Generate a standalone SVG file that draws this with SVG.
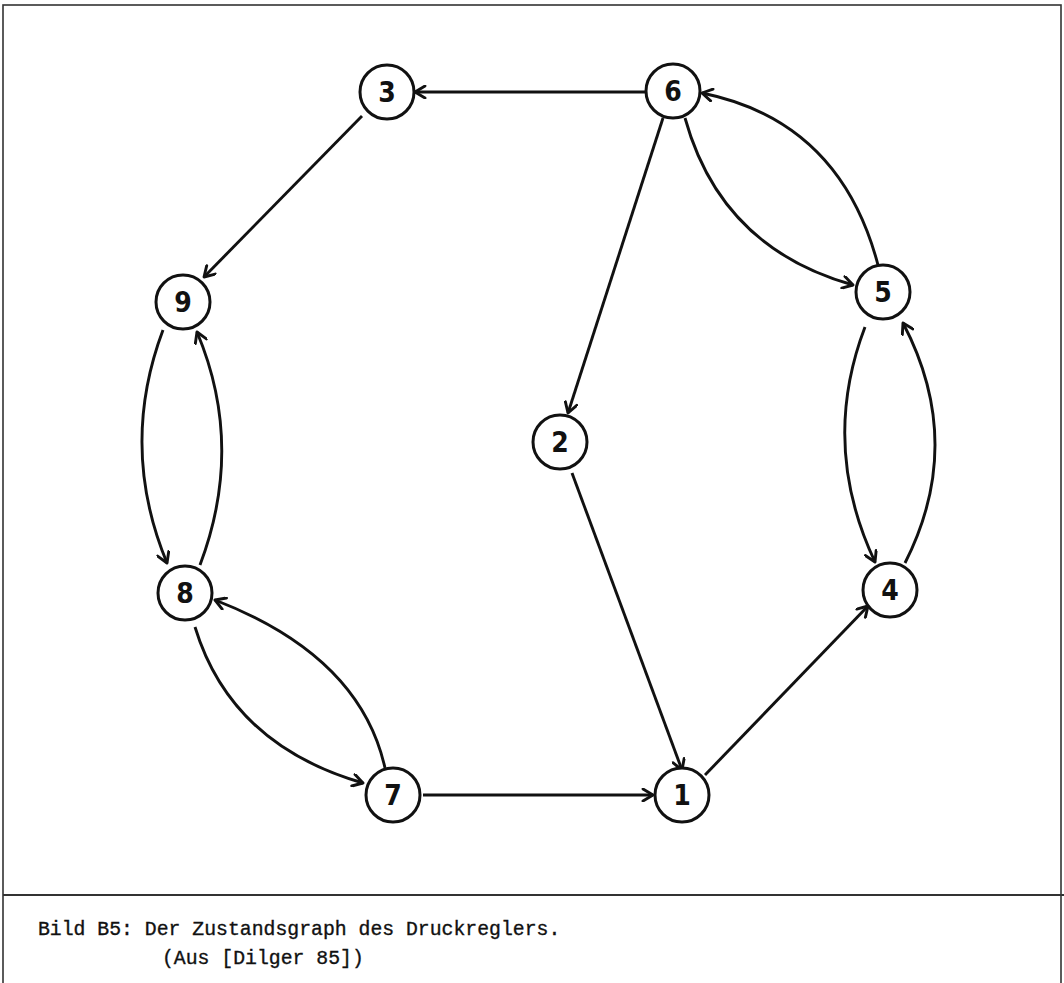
<svg xmlns="http://www.w3.org/2000/svg" width="1064" height="983" viewBox="0 0 1064 983">
<defs>
<style>
.n circle{fill:#fff;stroke:#111;stroke-width:3}
.n text{font-family:"Liberation Sans Narrow","DejaVu Sans Condensed","Liberation Sans",sans-serif;font-weight:bold;font-size:28px;fill:#111;text-anchor:middle}
.e path{fill:none;stroke:#111;stroke-width:2.9;marker-end:url(#ah)}
.cap{font-family:"Liberation Mono","DejaVu Sans Mono",monospace;font-size:19.8px;fill:#111;stroke:#111;stroke-width:0.35}
</style>
<marker id="ah" viewBox="-12 -7 14 14" refX="0" refY="0" markerWidth="14" markerHeight="14" markerUnits="userSpaceOnUse" orient="auto">
<path d="M-10,-6 L0,0 L-10,6" fill="none" stroke="#111" stroke-width="2.9" stroke-linecap="round" stroke-linejoin="round"/>
</marker>
</defs>
<rect x="0" y="0" width="1064" height="983" fill="#fff"/>
<g id="frame" fill="none" stroke="#333" stroke-width="1.6">
<rect x="3" y="5" width="1058" height="1000"/>
<line x1="3" y1="895" x2="1064" y2="895" stroke-width="2"/>
</g>
<g class="e" id="connectors">
<path d="M646,92 L415,92"/>
<path d="M362,116 L204,277"/>
<path d="M663,118 L568,413"/>
<path d="M572,473 L682,770"/>
<path d="M705,775 L868,606"/>
<path d="M423,795 L653,795"/>
<path d="M685,118 Q721,248 853,285"/>
<path d="M878,265 Q840,121 702,93"/>
<path d="M865,327 Q820,445 875,562"/>
<path d="M905,563 Q966,443 903,323"/>
<path d="M163,330 Q119,447 167,563"/>
<path d="M200,565 Q245,446 197,332"/>
<path d="M385,768 Q360,656 215,600"/>
<path d="M195,627 Q231,745 363,783"/>
</g>
<g class="n" id="node1"><circle cx="682" cy="795" r="27"/><text x="682" y="805">1</text></g>
<g class="n" id="node2"><circle cx="560" cy="442" r="27"/><text x="560" y="452">2</text></g>
<g class="n" id="node3"><circle cx="387" cy="92" r="27"/><text x="387" y="102">3</text></g>
<g class="n" id="node4"><circle cx="890" cy="590" r="27"/><text x="890" y="600">4</text></g>
<g class="n" id="node5"><circle cx="883" cy="292" r="27"/><text x="883" y="302">5</text></g>
<g class="n" id="node6"><circle cx="673" cy="91" r="27"/><text x="673" y="101">6</text></g>
<g class="n" id="node7"><circle cx="393" cy="795" r="27"/><text x="393" y="805">7</text></g>
<g class="n" id="node8"><circle cx="185" cy="593" r="27"/><text x="185" y="603">8</text></g>
<g class="n" id="node9"><circle cx="183" cy="302" r="27"/><text x="183" y="312">9</text></g>
<text class="cap" x="38" y="935">Bild B5: Der Zustandsgraph des Druckreglers.</text>
<text class="cap" x="162" y="964">(Aus [Dilger 85])</text>
</svg>
